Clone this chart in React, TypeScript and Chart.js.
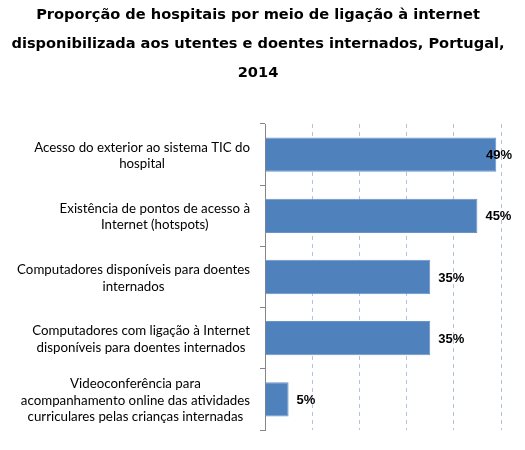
import React, { useEffect, useRef } from "react";
import { Chart, registerables } from "chart.js";

Chart.register(...registerables);

const titleLines = [
  "Proporção de hospitais por meio de ligação à internet",
  "disponibilizada aos utentes e doentes internados, Portugal,",
  "2014",
];

const categories: string[][] = [
  ["Acesso do exterior ao sistema TIC do", "hospital"],
  ["Existência de pontos de acesso à", "Internet (hotspots)"],
  ["Computadores disponíveis para doentes", "internados"],
  ["Computadores com ligação à Internet", "disponíveis para doentes internados"],
  ["Videoconferência para", "acompanhamento online das atividades", "curriculares pelas crianças internadas"],
];

const values = [49, 45, 35, 35, 5];
const xTicks = [0, 10, 20, 30, 40, 50];

const LABEL_FONT = "13.3px Lato, 'Liberation Sans', sans-serif";
const VALUE_FONT = "bold 13px 'Liberation Sans', sans-serif";
const TITLE_FONT = "bold 14.6px 'DejaVu Sans', sans-serif";

const titlePlugin = {
  id: "titleLines",
  afterDraw(chart: any) {
    const ctx = chart.ctx;
    ctx.save();
    ctx.font = TITLE_FONT;
    ctx.fillStyle = "#000";
    ctx.textAlign = "center";
    ctx.textBaseline = "middle";
    const ys = [15, 44, 73];
    titleLines.forEach((t, i) => ctx.fillText(t, 258, ys[i]));
    ctx.restore();
  },
};

const categoryLabelPlugin = {
  id: "categoryLabels",
  afterDraw(chart: any) {
    const ctx = chart.ctx;
    const yScale = chart.scales.y;
    ctx.save();
    ctx.font = LABEL_FONT;
    ctx.fillStyle = "#000";
    ctx.textAlign = "center";
    ctx.textBaseline = "middle";
    const rightEdge = yScale.right - 15;
    const lineH = 16.5;
    categories.forEach((lines, i) => {
      const cy = yScale.getPixelForValue(i);
      const w = Math.max(...lines.map((l) => ctx.measureText(l).width));
      const cx = rightEdge - w / 2;
      const y0 = cy - ((lines.length - 1) * lineH) / 2 + 1;
      lines.forEach((l, j) => ctx.fillText(l, cx, y0 + j * lineH));
    });
    ctx.restore();
  },
};

const valueLabelPlugin = {
  id: "valueLabels",
  afterDatasetsDraw(chart: any) {
    const ctx = chart.ctx;
    const meta = chart.getDatasetMeta(0);
    ctx.save();
    ctx.font = VALUE_FONT;
    ctx.fillStyle = "#000";
    ctx.textAlign = "left";
    ctx.textBaseline = "middle";
    meta.data.forEach((bar: any, i: number) => {
      const txt = values[i] + "%";
      const w = ctx.measureText(txt).width;
      const x = Math.min(bar.x + 8, chart.width - 13 - w);
      ctx.fillText(txt, x, bar.y + 1);
    });
    ctx.restore();
  },
};

export default function App() {
  const ref = useRef<HTMLCanvasElement>(null);

  useEffect(() => {
    document.body.style.margin = "0";
    const chart = new Chart(ref.current!, {
      type: "bar",
      data: {
        labels: categories.map((c) => c.join(" ")),
        datasets: [
          {
            data: values,
            backgroundColor: "#4f81bd",
            borderColor: "#6a93c8",
            borderWidth: 1,
            barPercentage: 0.56,
            categoryPercentage: 1,
          },
        ],
      },
      options: {
        indexAxis: "y",
        responsive: false,
        animation: false,
        layout: { padding: { top: 124, right: 24, bottom: 20, left: 0 } },
        plugins: {
          legend: { display: false },
          title: { display: false },
          tooltip: { enabled: false },
        },
        scales: {
          x: {
            min: 0,
            max: 50,
            afterBuildTicks: (scale: any) => {
              scale.ticks = xTicks.map((v) => ({ value: v }));
            },
            ticks: { display: false },
            border: { display: false, dash: [4, 4] },
            grid: {
              drawTicks: false,
              color: (c: any) => (c.tick && c.tick.value === 0 ? "rgba(0,0,0,0)" : "#b4c3dd"),
              lineWidth: 1,
            },
            afterFit: (scale: any) => {
              scale.height = 0;
            },
          },
          y: {
            ticks: { display: false },
            border: { display: true, color: "#868686", width: 1 },
            grid: {
              drawOnChartArea: false,
              drawTicks: true,
              tickLength: 5,
              color: "#868686",
              offset: true,
            },
            afterFit: (scale: any) => {
              scale.width = 265;
            },
          },
        },
      } as any,
      plugins: [titlePlugin, categoryLabelPlugin, valueLabelPlugin],
    });
    return () => chart.destroy();
  }, []);

  return <canvas ref={ref} width={525} height={450} />;
}
